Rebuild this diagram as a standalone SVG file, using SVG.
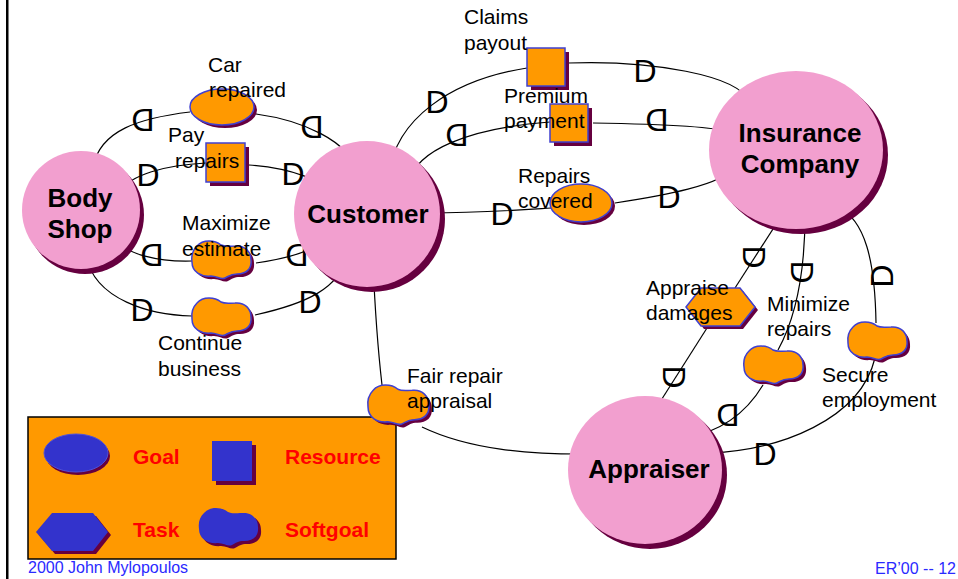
<svg xmlns="http://www.w3.org/2000/svg" xmlns:xlink="http://www.w3.org/1999/xlink" width="958" height="579" viewBox="0 0 958 579">
  <style>
    .actor { fill: #f29fcf; }
    .ashadow { fill: #66003f; }
    .shadow { fill: #66003f; }
    .el { fill: #ff9900; stroke: #4040d0; stroke-width: 1.5; }
    .leg { fill: #3333cc; }
    .conn { fill: none; stroke: #000; stroke-width: 1.2; }
    .lbl { font-family: "Liberation Sans", Arial, sans-serif; font-size: 21px; fill: #000; }
    .aname { font-family: "Liberation Sans", Arial, sans-serif; font-size: 26px; font-weight: bold; fill: #000; text-anchor: middle; }
    .dep { font-family: "Liberation Sans", Arial, sans-serif; font-size: 32px; fill: #000; text-anchor: middle; }
    .legtxt { font-family: "Liberation Sans", Arial, sans-serif; font-size: 21px; font-weight: bold; fill: #ff0000; }
    .foot { font-family: "Liberation Sans", Arial, sans-serif; font-size: 16px; fill: #2a2aff; }
  </style>
  <defs>
    <path id="cloud" d="M6,6 C12,-1 24,0 30,5 C34,7 38,6 44,6 C54,5 60,12 60,20 C61,29 55,34 46,34 C40,34 38,36 34,38 C30,40 26,36 20,36 C10,37 1,32 1,22 C0,15 2,10 6,6 Z"/>
  </defs>

  <rect x="0" y="0" width="958" height="579" fill="#fff"/>
  <!-- slide margin rule -->
  <rect x="6" y="0" width="2.5" height="579" fill="#000"/>

  <!-- legend box -->
  <g id="legend">
    <rect x="28" y="417" width="368" height="142" fill="#ff9900" stroke="#000" stroke-width="1.5"/>
    <ellipse cx="78" cy="456" rx="32" ry="19" class="shadow"/>
    <ellipse cx="76" cy="453" rx="32" ry="19" class="leg" stroke="#5050d8" stroke-width="1"/>
    <text x="133" y="464" class="legtxt">Goal</text>
    <rect x="216" y="445" width="40" height="40" class="shadow"/>
    <rect x="212" y="441" width="40" height="40" class="leg"/>
    <text x="285" y="464" class="legtxt">Resource</text>
    <polygon points="39,535 55,516 96,516 111,535 96,554 55,554" class="shadow"/>
    <polygon points="36,532 52,513 93,513 108,532 93,551 52,551" class="leg"/>
    <text x="133" y="537" class="legtxt">Task</text>
    <use xlink:href="#cloud" transform="translate(201,510)" class="shadow"/>
    <use xlink:href="#cloud" transform="translate(198,507)" class="leg"/>
    <text x="285" y="537" class="legtxt">Softgoal</text>
  </g>

  <!-- dependency links -->
  <g id="connectors" class="conn">
    <path d="M93,167 C100,130 140,118 190,112"/>
    <path d="M256,114 C300,120 350,140 357,173"/>
    <path d="M121,191 C130,175 165,165 206,163"/>
    <path d="M249,165 C290,168 325,180 331,196"/>
    <path d="M113,237 C125,255 160,262 192,261"/>
    <path d="M256,263 C290,258 318,250 323,237"/>
    <path d="M86,256 C95,300 150,315 192,316"/>
    <path d="M255,315 C300,305 345,290 349,247"/>
    <path d="M389,175 C395,120 450,80 527,68"/>
    <path d="M568,63 C650,60 740,75 749,102"/>
    <path d="M409,183 C415,150 470,128 550,122"/>
    <path d="M593,123 C650,124 715,126 728,132"/>
    <path d="M428,213 C480,213 520,210 551,208"/>
    <path d="M615,203 C660,196 725,185 733,167"/>
    <path d="M782,215 L735,288"/>
    <path d="M707,328 L653,413"/>
    <path d="M805,215 C805,260 800,310 778,350"/>
    <path d="M763,385 C745,415 720,432 685,438"/>
    <path d="M838,207 C865,220 875,260 876,323"/>
    <path d="M875,358 C860,420 780,450 710,453"/>
    <path d="M373,263 C375,310 378,350 382,385"/>
    <path d="M422,427 C470,450 530,454 581,454"/>
  </g>

  <!-- dependency markers -->
  <g id="dmarks">
    <text class="dep" transform="translate(143,119) scale(-1,1)" y="11.7">D</text>
    <text class="dep" transform="translate(312,126) scale(-1,1)" y="11.7">D</text>
    <text class="dep" transform="translate(148,174)" y="11.7">D</text>
    <text class="dep" transform="translate(293,173)" y="11.7">D</text>
    <text class="dep" transform="translate(152,254) scale(-1,1)" y="11.7">D</text>
    <text class="dep" transform="translate(297,254) scale(-1,1)" y="11.7">D</text>
    <text class="dep" transform="translate(142,309)" y="11.7">D</text>
    <text class="dep" transform="translate(310,301)" y="11.7">D</text>
    <text class="dep" transform="translate(437,101)" y="11.7">D</text>
    <text class="dep" transform="translate(645,70)" y="11.7">D</text>
    <text class="dep" transform="translate(457,134) scale(-1,1)" y="11.7">D</text>
    <text class="dep" transform="translate(657,119) scale(-1,1)" y="11.7">D</text>
    <text class="dep" transform="translate(502,213)" y="11.7">D</text>
    <text class="dep" transform="translate(669,196)" y="11.7">D</text>
    <text class="dep" transform="translate(755,257) rotate(90)" y="11.7">D</text>
    <text class="dep" transform="translate(803,272) rotate(90)" y="11.7">D</text>
    <text class="dep" transform="translate(881,276) rotate(-90)" y="11.7">D</text>
    <text class="dep" transform="translate(675,377) rotate(90)" y="11.7">D</text>
    <text class="dep" transform="translate(728,414) scale(-1,1)" y="11.7">D</text>
    <text class="dep" transform="translate(765,453)" y="11.7">D</text>
  </g>

  <!-- actors -->
  <g id="body-shop">
    <circle cx="85" cy="215" r="59" class="ashadow"/>
    <circle cx="81" cy="210" r="59" class="actor"/>
    <text x="80" y="207" class="aname">Body</text>
    <text x="80" y="238" class="aname">Shop</text>
  </g>
  <g id="customer">
    <circle cx="372" cy="219" r="73" class="ashadow"/>
    <circle cx="367" cy="214" r="73" class="actor"/>
    <text x="368" y="223" class="aname">Customer</text>
  </g>
  <g id="insurance-company">
    <ellipse cx="801" cy="155" rx="87" ry="79" class="ashadow"/>
    <ellipse cx="796" cy="150" rx="87" ry="79" class="actor"/>
    <text x="800" y="142" class="aname">Insurance</text>
    <text x="800" y="173" class="aname">Company</text>
  </g>
  <g id="appraiser">
    <ellipse cx="650" cy="475" rx="77" ry="74" class="ashadow"/>
    <ellipse cx="645" cy="470" rx="77" ry="74" class="actor"/>
    <text x="649" y="478" class="aname">Appraiser</text>
  </g>

  <!-- goals -->
  <g id="car-repaired">
    <ellipse cx="225" cy="110" rx="32" ry="18" class="shadow"/>
    <ellipse cx="222" cy="107" rx="32" ry="18" class="el"/>
    <text x="208" y="72" class="lbl">Car</text>
    <text x="209" y="97" class="lbl">repaired</text>
  </g>
  <g id="repairs-covered">
    <ellipse cx="584" cy="206" rx="31" ry="19" class="shadow"/>
    <ellipse cx="581" cy="203" rx="31" ry="19" class="el"/>
    <text x="518" y="183" class="lbl">Repairs</text>
    <text x="518" y="208" class="lbl">covered</text>
  </g>

  <!-- resources -->
  <g id="pay-repairs">
    <rect x="210" y="147" width="39" height="39" class="shadow"/>
    <rect x="206" y="143" width="39" height="39" class="el"/>
    <text x="168" y="142" class="lbl">Pay</text>
    <text x="175" y="168" class="lbl">repairs</text>
  </g>
  <g id="claims-payout">
    <rect x="531" y="52" width="38" height="38" class="shadow"/>
    <rect x="527" y="48" width="38" height="38" class="el"/>
    <text x="464" y="24" class="lbl">Claims</text>
    <text x="464" y="50" class="lbl">payout</text>
  </g>
  <g id="premium-payment">
    <rect x="554" y="108" width="38" height="38" class="shadow"/>
    <rect x="550" y="104" width="38" height="38" class="el"/>
    <text x="504" y="103" class="lbl">Premium</text>
    <text x="504" y="128" class="lbl">payment</text>
  </g>

  <!-- task -->
  <g id="appraise-damages">
    <polygon points="689,310 704,291 743,291 758,310 743,329 704,329" class="shadow"/>
    <polygon points="686,307 701,288 740,288 755,307 740,326 701,326" class="el"/>
    <text x="646" y="295" class="lbl">Appraise</text>
    <text x="646" y="320" class="lbl">damages</text>
  </g>

  <!-- softgoals -->
  <g id="maximize-estimate">
    <use xlink:href="#cloud" transform="translate(194,243)" class="shadow"/>
    <use xlink:href="#cloud" transform="translate(191,240)" class="el"/>
    <text x="182" y="230" class="lbl">Maximize</text>
    <text x="182" y="256" class="lbl">estimate</text>
  </g>
  <g id="continue-business">
    <use xlink:href="#cloud" transform="translate(194,300)" class="shadow"/>
    <use xlink:href="#cloud" transform="translate(191,297)" class="el"/>
    <text x="158" y="350" class="lbl">Continue</text>
    <text x="158" y="376" class="lbl">business</text>
  </g>
  <g id="fair-repair-appraisal">
    <use xlink:href="#cloud" transform="translate(370,387) scale(1.03,1.05)" class="shadow"/>
    <use xlink:href="#cloud" transform="translate(367,384) scale(1.03,1.05)" class="el"/>
    <text x="407" y="383" class="lbl">Fair repair</text>
    <text x="407" y="408" class="lbl">appraisal</text>
  </g>
  <g id="minimize-repairs">
    <use xlink:href="#cloud" transform="translate(746,348)" class="shadow"/>
    <use xlink:href="#cloud" transform="translate(743,345)" class="el"/>
    <text x="767" y="311" class="lbl">Minimize</text>
    <text x="767" y="336" class="lbl">repairs</text>
  </g>
  <g id="secure-employment">
    <use xlink:href="#cloud" transform="translate(850,324)" class="shadow"/>
    <use xlink:href="#cloud" transform="translate(847,321)" class="el"/>
    <text x="822" y="382" class="lbl">Secure</text>
    <text x="822" y="407" class="lbl">employment</text>
  </g>

  <!-- footer -->
  <text x="28" y="573" class="foot">2000 John Mylopoulos</text>
  <text x="956" y="574" class="foot" text-anchor="end">ER’00 -- 12</text>
</svg>
